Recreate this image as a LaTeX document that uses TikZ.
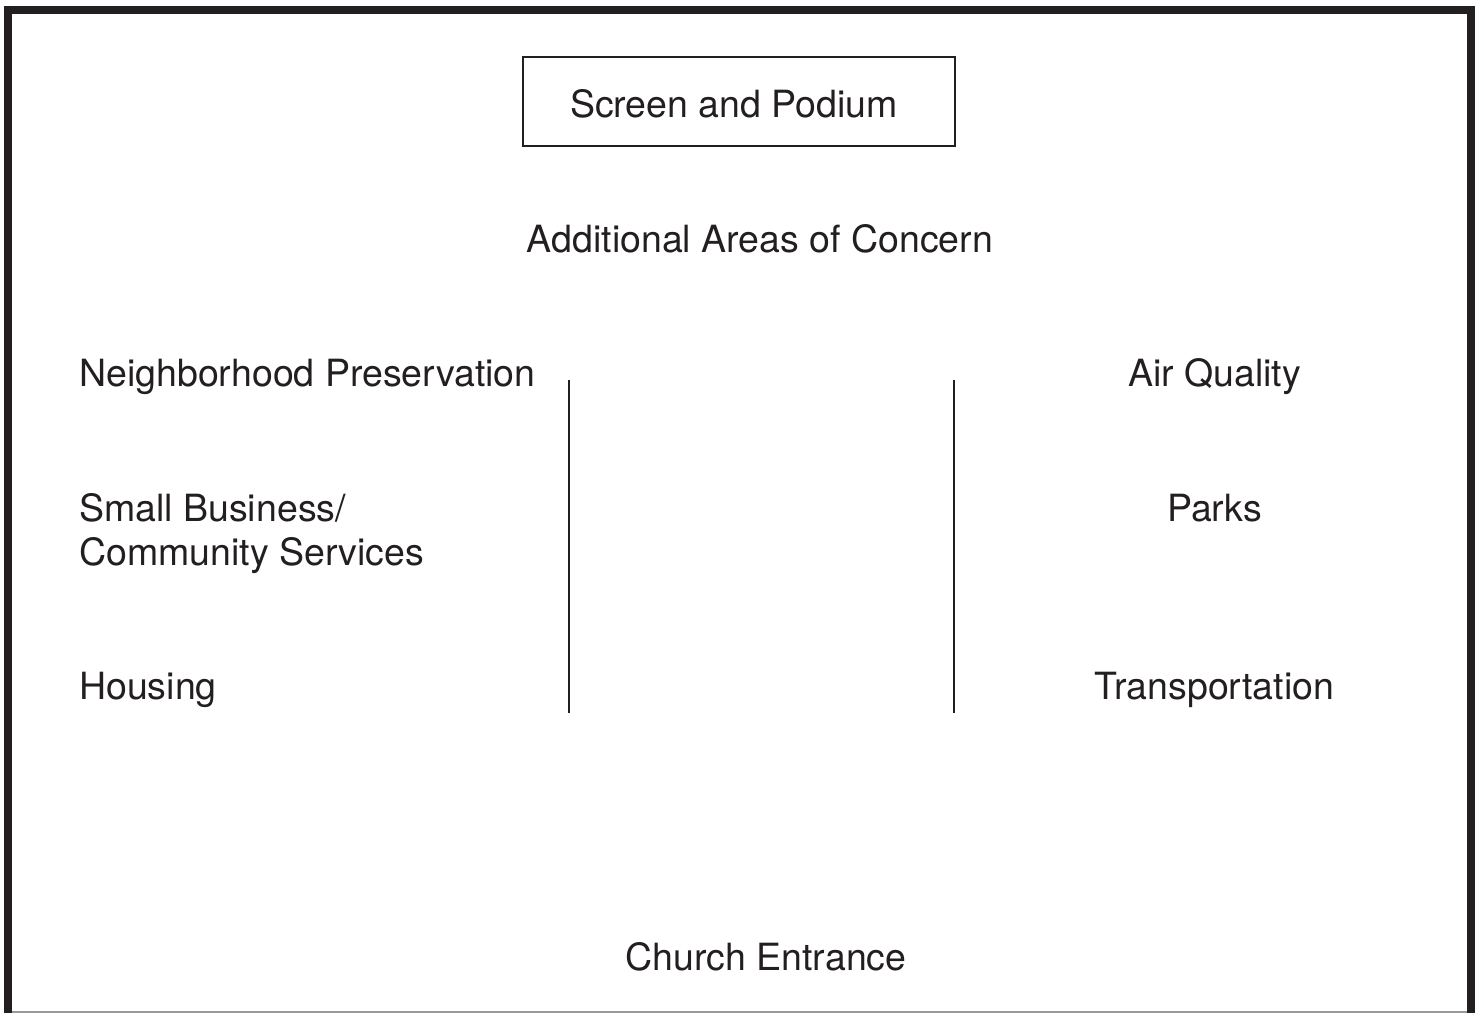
\documentclass[tikz,border=0pt]{standalone}
\usepackage{fontspec}
\setmainfont{TeX Gyre Heros}
\definecolor{ink}{HTML}{231F20}
\begin{document}
\begin{tikzpicture}[x=1pt,y=-1pt,
  lbl/.style={inner sep=0pt,text=ink,font=\fontsize{37.5}{44}\selectfont},
  frame/.style={draw=ink,line width=8pt},
  divider/.style={draw=ink,line width=2pt}]
\useasboundingbox (0,0) rectangle (1481,1013);
\fill[white] (0,0) rectangle (1481,1013);
% frame
\draw[frame] (8,1013) -- (8,10) -- (1471,10) -- (1471,1013);
\draw[gray!80,line width=1.5pt] (12,1012.2) -- (1467,1012.2);
% screen box
\node[draw=ink,line width=2pt,minimum width=432pt,minimum height=89pt,inner sep=0pt] (box) at (739,101.5) {};
\node[lbl,anchor=base] (screen) at (734,117) {Screen and Podium};
\node[lbl,anchor=base] (add) at (760,252) {Additional Areas of Concern};
% left column
\node[lbl,anchor=base west] (np) at (79,386) {Neighborhood Preservation};
\node[lbl,anchor=base west] (sb1) at (79,521) {Small Business/};
\node[lbl,anchor=base west] (sb2) at (79,565) {Community Services};
\node[lbl,anchor=base west] (hous) at (79,699) {Housing};
% right column
\node[lbl,anchor=base] (air) at (1214.5,386) {Air Quality};
\node[lbl,anchor=base] (parks) at (1214.5,521) {Parks};
\node[lbl,anchor=base] (trans) at (1214.5,699) {Transportation};
% entrance
\node[lbl,anchor=base] (church) at (766,970) {Church Entrance};
% dividers
\coordinate (l1) at (569,380); \coordinate (l2) at (569,713);
\coordinate (r1) at (954,380); \coordinate (r2) at (954,713);
\draw[divider] (l1) -- (l2);
\draw[divider] (r1) -- (r2);
\end{tikzpicture}
\end{document}
